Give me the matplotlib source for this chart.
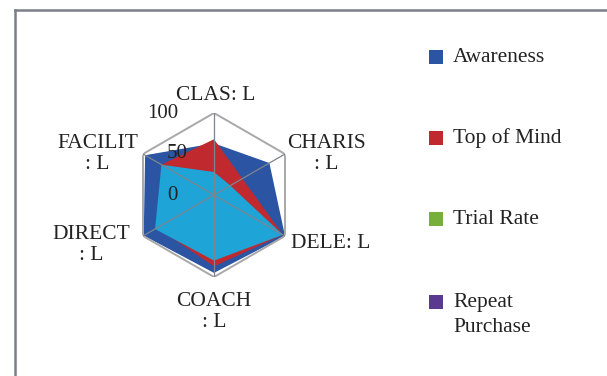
import numpy as np
import matplotlib
matplotlib.use('Agg')
import matplotlib.pyplot as plt
from matplotlib.lines import Line2D
from matplotlib.patches import Rectangle

axis_labels = ['CLAS: L', 'CHARIS\n: L', 'DELE: L', 'COACH\n: L', 'DIRECT\n: L', 'FACILIT\n: L']
awareness = [63, 78, 100, 95, 99, 97]
top_of_mind = [68, 40, 97, 87, 80, 74]
trial_rate = [28, 23, 97, 80, 83, 74]
r_ticks = [0, 50, 100]

legend_labels = ['Awareness', 'Top of Mind', 'Trial Rate', 'Repeat\nPurchase']
legend_colors = ['#2b55a3', '#c0292d', '#76b03a', '#5a3a8e']
fill_colors = ['#2b55a3', '#c0292d', '#1ea4d6']

plt.rcParams['font.family'] = ['Liberation Serif', 'DejaVu Serif']

W, H = 607, 376
fig = plt.figure(figsize=(W / 100, H / 100), dpi=100)

# outer frame (left + top only)
fig.add_artist(Line2D([14.5 / W, 14.5 / W], [0, 1 - 10 / H], color='#7a7f85', lw=1.8))
fig.add_artist(Line2D([14.5 / W, 1], [1 - 10 / H, 1 - 10 / H], color='#7a7f85', lw=1.8))

cx, cy, R = 214, 195, 82
ax = fig.add_axes([(cx - R) / W, (H - cy - R) / H, 2 * R / W, 2 * R / H], projection='polar')
ax.set_theta_offset(np.pi / 2)
ax.set_theta_direction(-1)
ax.set_ylim(0, 100)
ax.grid(False)
ax.spines['polar'].set_visible(False)
ax.set_xticks([])
ax.set_yticks([])
ax.patch.set_alpha(0)

n = len(axis_labels)
angles = np.linspace(0, 2 * np.pi, n, endpoint=False)
closed = np.append(angles, angles[0])

for vals, col in zip([awareness, top_of_mind, trial_rate], fill_colors):
    v = np.append(vals, vals[0])
    ax.fill(closed, v, color=col, lw=0, zorder=2)

# hexagon frame and spokes
ax.plot(closed, [100] * (n + 1), color='#a8a8a8', lw=1.4, zorder=3)
for a in angles:
    ax.plot([a, a], [0, 100], color='#7d8590', lw=0.9, zorder=3)

# axis labels
offsets = [(2, 17), (2, 0), (6, -7), (0, -35), (-13, -9), (-5, 0)]
aligns = ['center', 'left', 'left', 'center', 'right', 'right']
for a, lab, off, ha in zip(angles, axis_labels, offsets, aligns):
    ax.annotate(lab, xy=(a, 100), xytext=off, textcoords='offset pixels',
                ha=ha, va='center', multialignment='center', fontsize=15.5,
                color='#222222', annotation_clip=False, zorder=5)

tick_dx = [-36, -26, -36]
for t, dx in zip(r_ticks, tick_dx):
    ax.annotate(str(t), xy=(0, t), xytext=(dx, 0), textcoords='offset pixels',
                ha='right', va='center', fontsize=15, color='#222222',
                annotation_clip=False, zorder=5)

# legend drawn by hand to keep the wide spacing of the original
leg_y = [57, 138, 219, 302]
for lab, col, y in zip(legend_labels, legend_colors, leg_y):
    fig.add_artist(Rectangle((429 / W, 1 - (y + 7) / H), 14 / W, 14 / H,
                             facecolor=col, edgecolor='none'))
    if '\n' in lab:
        fig.text(453 / W, 1 - (y - 9) / H, lab, ha='left', va='top',
                 fontsize=15.5, color='#222222', linespacing=1.4)
    else:
        fig.text(453 / W, 1 - y / H, lab, ha='left', va='center',
                 fontsize=15.5, color='#222222')

fig.savefig('out.png', dpi=100)
